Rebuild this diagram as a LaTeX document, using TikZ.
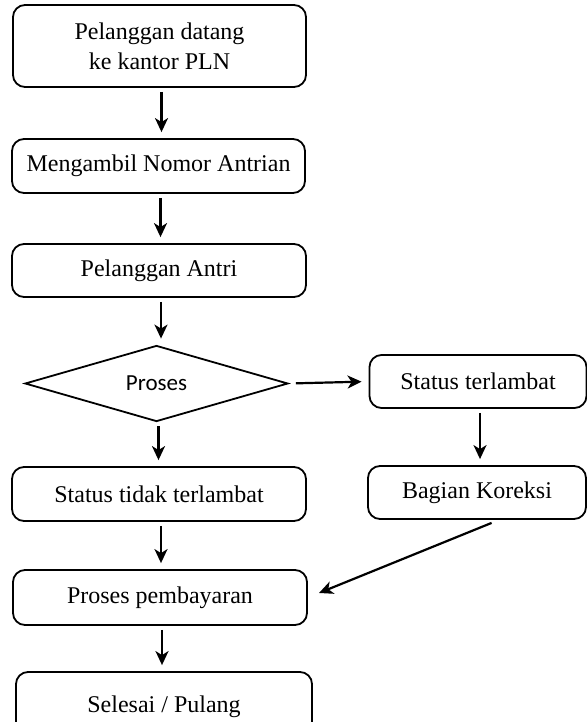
\documentclass[tikz,border=0pt]{standalone}
\usepackage{fontspec}
\setmainfont{Liberation Serif}
\newfontfamily\procfont{Carlito}
\usetikzlibrary{shapes.geometric,arrows.meta}

\begin{document}
\begin{tikzpicture}[x = .5pt, y = -.5pt,
    box/.style = {draw, line width = .9pt, rounded corners = 6pt,
      minimum width = 147pt, minimum height = 27pt, inner sep = 0pt,
      align = center, font = \fontsize{12}{15}\selectfont},
    dec/.style = {draw, diamond, line width = .9pt, inner sep = 0pt,
      minimum width = 131.5pt, minimum height = 34.5pt,
      font = \procfont\fontsize{11.5}{14}\selectfont},
    arr/.style = {-{Stealth[length = 7pt, width = 6.5pt, inset = 2pt]},
      line width = 1.1pt, shorten <= 2pt, shorten >= 3pt}]
        \useasboundingbox (0,0) rectangle (587,722);

        % draws the left column
        \node[box, minimum width = 146.5pt, minimum height = 41pt] (datang)
          at (159.5,46) {Pelanggan datang\\ke kantor PLN};
        \node[box, minimum width = 146.5pt] (ambil) at (158.5,166) {Mengambil Nomor Antrian};
        \node[box, minimum height = 26.5pt] (antri) at (159,270.5) {Pelanggan Antri};
        \node[dec] (proses) at (156.5,383.5) {Proses};
        \node[box] (tidak) at (159,494) {Status tidak terlambat};
        \node[box, minimum height = 27.5pt] (bayar) at (160,597.5) {Proses pembayaran};
        \node[box, minimum width = 148pt, minimum height = 34.5pt] (selesai)
          at (164,706.5) {Selesai / Pulang};

        % draws the right column
        \node[box, minimum width = 108.5pt, minimum height = 26.5pt] (telat)
          at (478,381.5) {Status terlambat};
        \node[box, minimum width = 109pt, minimum height = 26.5pt] (koreksi)
          at (477,492.5) {Bagian Koreksi};

        % draws the arrows
        \foreach \a/\b in {datang/ambil, ambil/antri, antri/proses, proses/tidak,
                           tidak/bayar, bayar/selesai, telat/koreksi}
          \draw[arr] ([xshift = 1pt]\a.south) -- ([xshift = 1pt]\a.south |- \b.north);

        \draw[arr, shorten <= 3.5pt, shorten >= 3.5pt] (proses.east) -- (telat.west);
        \draw[arr, shorten <= 4pt, shorten >= 6pt]
          ([xshift = 11pt]koreksi.south) -- (bayar.east);
      \end{tikzpicture}
\end{document}
